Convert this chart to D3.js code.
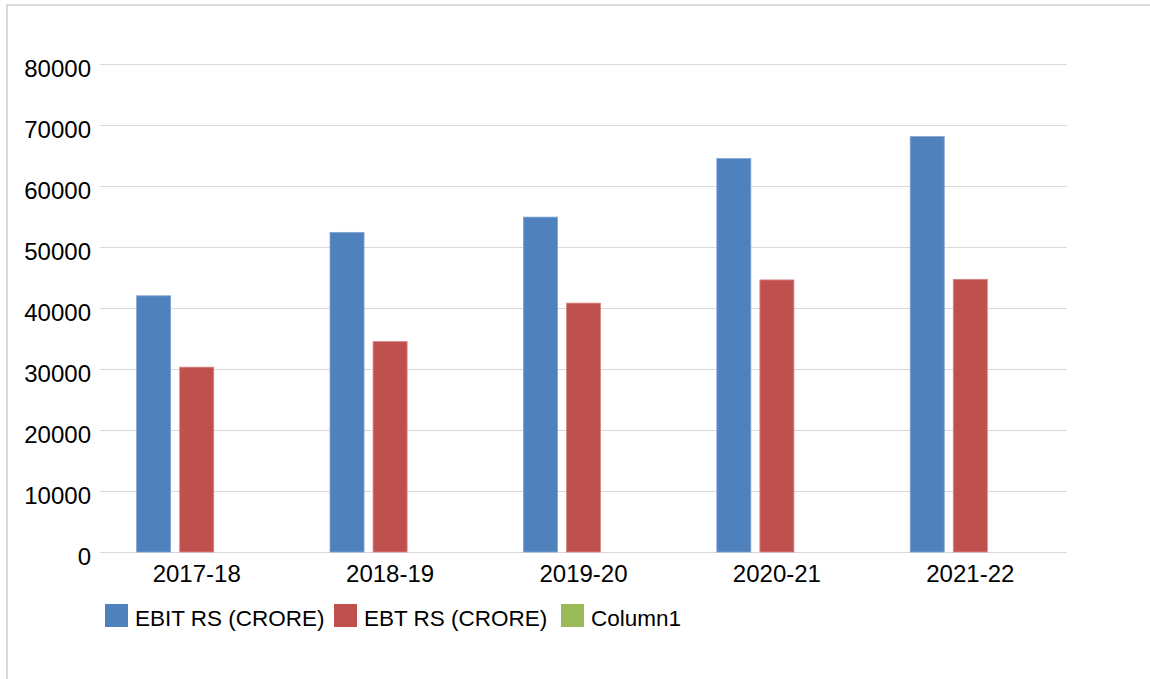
<!DOCTYPE html>
<html>
<head>
<meta charset="utf-8">
<script src="https://cdn.jsdelivr.net/npm/d3@7"></script>
<style>
  html, body { margin: 0; padding: 0; background: #fff; }
  svg { display: block; font-family: "Liberation Sans", Arial, sans-serif; }
</style>
</head>
<body>
<svg id="chart" width="1150" height="679"></svg>
<script>
// Financial years on the category axis
const categories = ["2017-18", "2018-19", "2019-20", "2020-21", "2021-22"];

// Series values (Rs crore)
const ebit = [42000, 52400, 54900, 64500, 68100];
const ebt = [30300, 34500, 40800, 44600, 44700];
const column1 = [null, null, null, null, null];

const seriesNames = ["EBIT RS (CRORE)", "EBT RS (CRORE)", "Column1"];
const seriesValues = [ebit, ebt, column1];
const seriesColors = ["#4F81BD", "#C0504D", "#9BBB59"];
const seriesEdges = ["#7FA3D3", "#D88583", "#B9D08A"];

const yTicks = [0, 10000, 20000, 30000, 40000, 50000, 60000, 70000, 80000];

const svg = d3.select("#chart");

// Frame
svg.append("path")
  .attr("d", "M7,679 L7,5 L1150,5")
  .attr("fill", "none")
  .attr("stroke", "#d9d9d9")
  .attr("stroke-width", 2);

const plot = { left: 100, right: 1067, top: 64, bottom: 552 };

const y = d3.scaleLinear().domain([0, 80000]).range([plot.bottom, plot.top]);
const x0 = d3.scaleBand().domain(categories).range([plot.left, plot.right]).paddingInner(0).paddingOuter(0);
const x1 = d3.scaleBand().domain(seriesNames).range([0, x0.bandwidth()])
  .paddingInner(0.21).paddingOuter(0.85);

// Horizontal gridlines
svg.append("g")
  .selectAll("line")
  .data(yTicks)
  .join("line")
  .attr("x1", plot.left)
  .attr("x2", plot.right)
  .attr("y1", d => Math.round(y(d)) + 0.5)
  .attr("y2", d => Math.round(y(d)) + 0.5)
  .attr("stroke", "#d9d9d9")
  .attr("stroke-width", 1.2);

// Y axis labels
const yAxis = d3.axisLeft(y).tickValues(yTicks).tickSize(0).tickPadding(0).tickFormat(d3.format("d"));
svg.append("g")
  .attr("transform", `translate(91,0)`)
  .call(yAxis)
  .call(g => g.select(".domain").remove())
  .call(g => g.selectAll("text")
    .attr("font-size", 24)
    .attr("font-family", "Liberation Sans, Arial, sans-serif")
    .attr("fill", "#000")
    .attr("dy", "0.5em"));

// Bars
const groups = svg.append("g")
  .selectAll("g")
  .data(categories)
  .join("g")
  .attr("transform", d => `translate(${x0(d)},0)`);

groups.selectAll("rect")
  .data((c, i) => seriesNames.map((s, k) => ({ s, k, v: seriesValues[k][i] })).filter(d => d.v != null))
  .join("rect")
  .attr("x", d => x1(d.s))
  .attr("width", x1.bandwidth())
  .attr("y", d => y(d.v))
  .attr("height", d => y(0) - y(d.v))
  .attr("fill", d => seriesColors[d.k])
  .attr("stroke", d => seriesEdges[d.k])
  .attr("stroke-width", 0.8);

// X axis labels
const xAxis = d3.axisBottom(x0).tickSize(0).tickPadding(0);
svg.append("g")
  .attr("transform", `translate(0,${plot.bottom})`)
  .call(xAxis)
  .call(g => g.select(".domain").remove())
  .call(g => g.selectAll("text")
    .attr("font-size", 24)
    .attr("font-family", "Liberation Sans, Arial, sans-serif")
    .attr("fill", "#000")
    .attr("dy", null)
    .attr("y", 30));

// Legend
const legendX = [105, 334, 561];
const legend = svg.append("g")
  .selectAll("g")
  .data(seriesNames)
  .join("g")
  .attr("transform", (d, i) => `translate(${legendX[i]},604)`);

legend.append("rect")
  .attr("width", 23)
  .attr("height", 23)
  .attr("fill", (d, i) => seriesColors[i]);

legend.append("text")
  .attr("x", 30)
  .attr("y", 22)
  .attr("font-size", 22.5)
  .attr("fill", "#000")
  .text(d => d);
</script>
</body>
</html>
